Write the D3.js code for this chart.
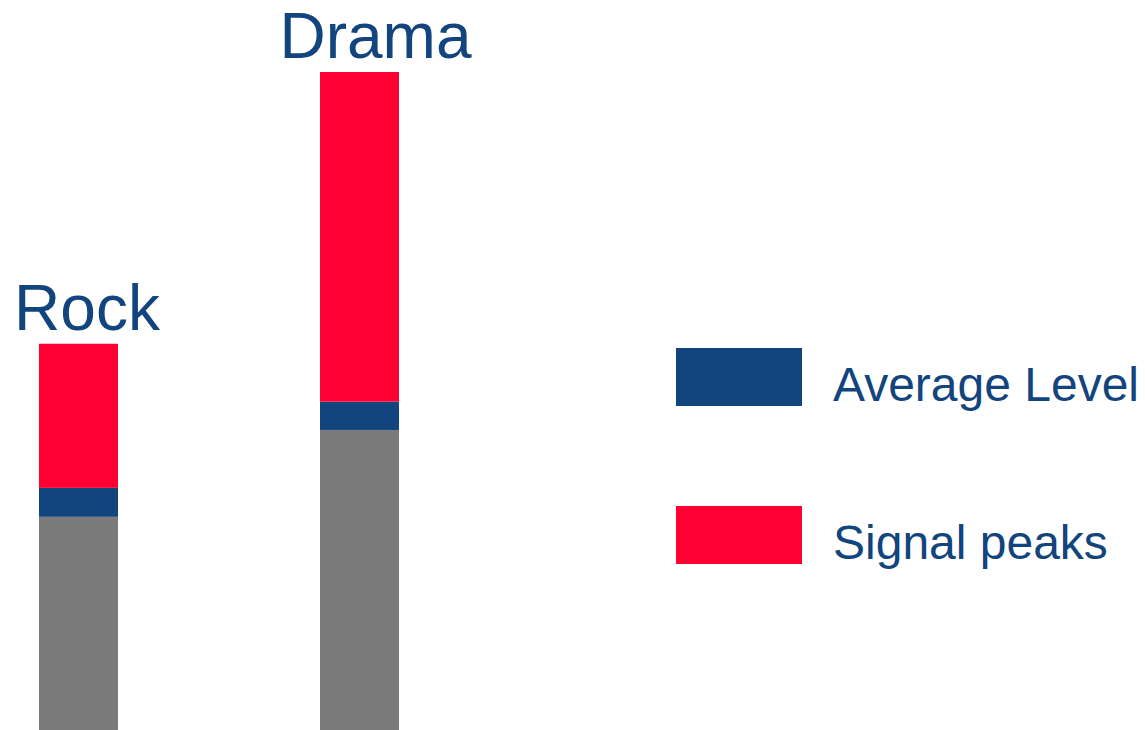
<!DOCTYPE html>
<html>
<head>
<meta charset="utf-8">
<script src="https://cdn.jsdelivr.net/npm/d3@7"></script>
<style>
  html, body { margin: 0; padding: 0; background: #ffffff; }
  svg { display: block; font-family: "Liberation Sans", Arial, sans-serif; }
</style>
</head>
<body>
<svg id="chart" width="1145" height="730"></svg>
<script>
// Categories and stacked segment values (bottom to top)
const categories = ["Rock", "Drama"];
const baseLevel = [32.4, 45.6];      // grey base segment
const averageLevel = [4.4, 4.3];     // blue segment
const signalPeaks = [21.9, 50.1];    // red segment

const seriesNames = ["Base", "Average Level", "Signal peaks"];
const legendNames = ["Average Level", "Signal peaks"];

const colors = {
  "Base": "#7a7a7a",
  "Average Level": "#12447e",
  "Signal peaks": "#ff0033"
};
const textColor = "#12447e";

const rows = categories.map((c, i) => ({
  category: c,
  "Base": baseLevel[i],
  "Average Level": averageLevel[i],
  "Signal peaks": signalPeaks[i]
}));

const svg = d3.select("#chart");

const x = d3.scaleBand()
  .domain(categories)
  .range([39, 399])
  .paddingInner(202 / 281)
  .paddingOuter(0);

const y = d3.scaleLinear()
  .domain([0, 100])
  .range([730, 72]);

const stacked = d3.stack().keys(seriesNames)(rows);

svg.append("g")
  .selectAll("g")
  .data(stacked)
  .join("g")
  .attr("fill", d => colors[d.key])
  .selectAll("rect")
  .data(d => d)
  .join("rect")
  .attr("x", d => x(d.data.category))
  .attr("y", d => y(d[1]))
  .attr("width", x.bandwidth())
  .attr("height", d => y(d[0]) - y(d[1]));

// Category labels above each bar
const labelShift = { "Rock": 8.5, "Drama": 16 };
const topLayer = stacked[stacked.length - 1];
svg.append("g")
  .selectAll("text")
  .data(topLayer)
  .join("text")
  .attr("x", d => x(d.data.category) + x.bandwidth() / 2 + labelShift[d.data.category])
  .attr("y", d => y(d[1]) - 14)
  .attr("text-anchor", "middle")
  .attr("font-size", 64)
  .attr("fill", textColor)
  .text(d => d.data.category);

// Legend
const legend = svg.append("g").attr("transform", "translate(676,348)");
const item = legend.selectAll("g")
  .data(legendNames)
  .join("g")
  .attr("transform", (d, i) => `translate(0,${i * 158})`);

item.append("rect")
  .attr("width", 126)
  .attr("height", 58)
  .attr("fill", d => colors[d]);

item.append("text")
  .attr("x", 157)
  .attr("y", 53)
  .attr("font-size", 48)
  .attr("fill", textColor)
  .text(d => d);
</script>
</body>
</html>
